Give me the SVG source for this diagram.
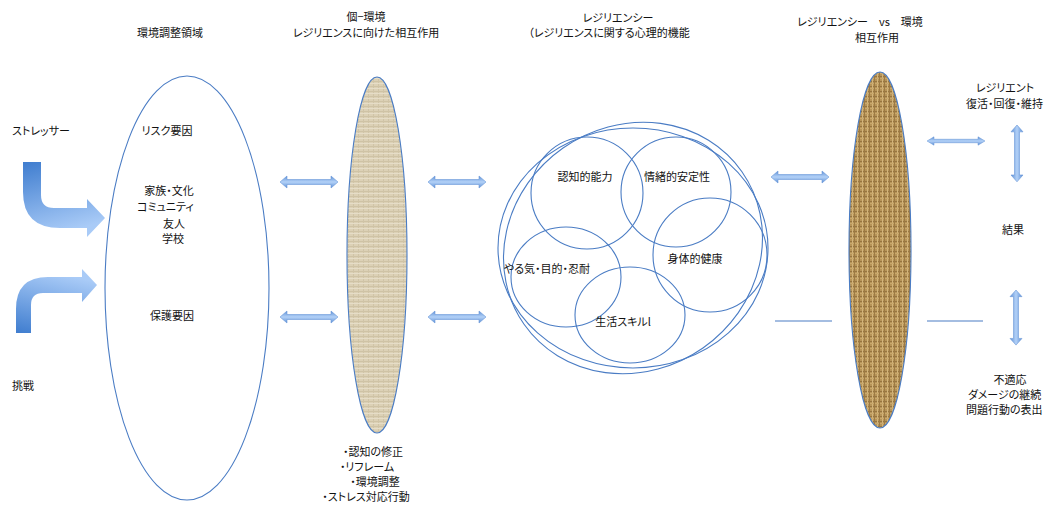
<svg xmlns="http://www.w3.org/2000/svg" width="1045" height="506" viewBox="0 0 1045 506">
<style>
text{font-family:"Noto Sans CJK JP","Noto Sans",sans-serif;font-size:11px;fill:#111;text-anchor:middle;font-feature-settings:"palt"}
.l{text-anchor:start}
.ol{fill:none;stroke:#4a7cc4;stroke-width:1.1}
.dbl{fill:url(#dg);stroke:#6b98d8;stroke-width:0.6}
.line{stroke:#4a7cc4;stroke-width:1.2}
</style>
<defs>
<linearGradient id="dg" x1="0" y1="0" x2="0" y2="1">
<stop offset="0" stop-color="#5d90d6"/><stop offset="0.5" stop-color="#b3d1f7"/><stop offset="1" stop-color="#5d90d6"/>
</linearGradient>
<linearGradient id="bg1" x1="0" y1="0" x2="0.3" y2="1">
<stop offset="0" stop-color="#3f7dcf"/><stop offset="1" stop-color="#a9cbf7"/>
</linearGradient>
<linearGradient id="bg2" x1="0" y1="1" x2="0.3" y2="0">
<stop offset="0" stop-color="#3f7dcf"/><stop offset="1" stop-color="#a9cbf7"/>
</linearGradient>
<pattern id="linen" width="5" height="5" patternUnits="userSpaceOnUse">
<rect width="5" height="5" fill="#dcd1b6"/>
<rect x="0" y="1" width="5" height="1" fill="#cfc3a5"/>
<rect x="3" y="0" width="1" height="5" fill="#d0c4a7"/>
<rect x="0" y="3" width="5" height="1" fill="#e6ddc7"/>
</pattern>
<pattern id="burlap" width="5" height="5" patternUnits="userSpaceOnUse">
<rect width="5" height="5" fill="#b79458"/>
<rect x="0" y="1" width="5" height="1" fill="#977540"/>
<rect x="2" y="0" width="1" height="5" fill="#d2b47c"/>
<rect x="0" y="3" width="5" height="1" fill="#c9a86c"/>
<rect x="4" y="0" width="1" height="5" fill="#9c7a44"/>
</pattern>
<path id="da" d="M0,0 L7,-6 L7,-2.5 L51,-2.5 L51,-6 L58,0 L51,6 L51,2.5 L7,2.5 L7,6 Z"/>
</defs>

<g id="headers">
<text x="170" y="37">環境調整領域</text>
<text x="366" y="21">個−環境</text>
<text x="366" y="37">レジリエンスに向けた相互作用</text>
<text x="618" y="22">レジリエンシー</text>
<text x="609" y="37">（レジリエンスに関する心理的機能</text>
<text x="860" y="26">レジリエンシー　vs　環境</text>
<text x="877" y="42">相互作用</text>
</g>

<g id="stressor">
<text class="l" x="12" y="135">ストレッサー</text>
<path d="M23,162 L41,162 L41,195 Q41,208 54,208 L87,208 L87,199 L105,218 L87,237 L87,228 L60,228 Q23,228 23,192 Z" fill="url(#bg1)"/>
</g>
<g id="challenge">
<text class="l" x="12" y="390">挑戦</text>
<path d="M16,333 L31,333 L31,305 Q31,293 43,293 L82,293 L82,302 L97,285 L82,269 L82,277 L48,277 Q16,277 16,309 Z" fill="url(#bg2)"/>
</g>

<g id="env-area">
<ellipse class="ol" cx="187" cy="288" rx="82" ry="212"/>
<text x="167" y="135">リスク要因</text>
<text x="169" y="195">家族・文化</text>
<text class="l" x="137" y="211">コミュニティ</text>
<text x="174" y="228">友人</text>
<text x="173" y="243">学校</text>
<text x="172" y="320">保護要因</text>
</g>

<g id="interaction">
<ellipse cx="377" cy="255" rx="30" ry="178" fill="url(#linen)" stroke="#4a7cc4" stroke-width="1.1"/>
<text x="373" y="456">・認知の修正</text>
<text x="367" y="471">・リフレーム</text>
<text x="375" y="486">・環境調整</text>
<text x="366" y="501">・ストレス対応行動</text>
</g>

<g id="resiliency">
<ellipse class="ol" cx="633" cy="248" rx="135" ry="120"/>
<ellipse class="ol" cx="633" cy="248" rx="133" ry="122" transform="rotate(-35 633 248)"/>
<circle class="ol" cx="587" cy="193" r="56"/>
<circle class="ol" cx="676" cy="192" r="55"/>
<circle class="ol" cx="710" cy="255" r="57"/>
<ellipse class="ol" cx="566" cy="277" rx="55" ry="50"/>
<ellipse class="ol" cx="630" cy="315" rx="55" ry="48"/>
<text x="585" y="181">認知的能力</text>
<text x="677" y="181">情緒的安定性</text>
<text x="695" y="263">身体的健康</text>
<text x="547" y="273">やる気・目的・忍耐</text>
<text x="623" y="326">生活スキルl</text>
</g>

<g id="res-env">
<ellipse cx="880" cy="250" rx="31" ry="178" fill="url(#burlap)" stroke="#4a7cc4" stroke-width="1.1"/>
</g>

<g id="outcome">
<text x="1005" y="92">レジリエント</text>
<text class="l" x="966" y="108">復活・回復・維持</text>
<text x="1013" y="234">結果</text>
<text x="1010" y="384">不適応</text>
<text class="l" x="968" y="399">ダメージの継続</text>
<text class="l" x="966" y="414">問題行動の表出</text>
</g>

<g id="connectors">
<use href="#da" class="dbl" transform="translate(280,182)"/>
<use href="#da" class="dbl" transform="translate(280,317)"/>
<use href="#da" class="dbl" transform="translate(428,182)"/>
<use href="#da" class="dbl" transform="translate(428,317)"/>
<use href="#da" class="dbl" transform="translate(771,177)"/>
<use href="#da" class="dbl" transform="translate(927,141) scale(1,0.7)"/>
<use href="#da" class="dbl" transform="translate(1017,125) rotate(90) scale(0.98,1)"/>
<use href="#da" class="dbl" transform="translate(1016,290) rotate(90) scale(0.95,1)"/>
<line class="line" x1="775" y1="321" x2="832" y2="321"/>
<line class="line" x1="927" y1="321" x2="983" y2="321"/>
</g>
</svg>
